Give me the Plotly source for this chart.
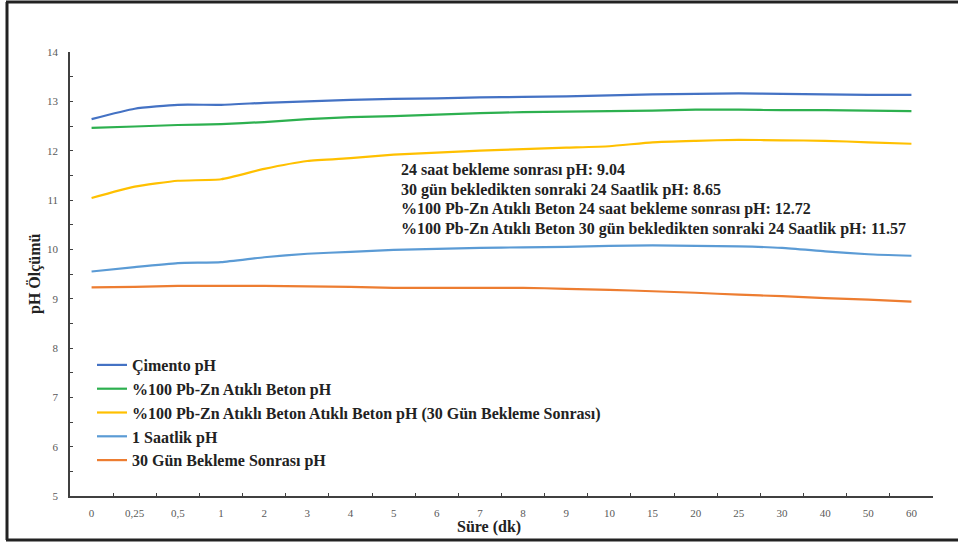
import plotly.graph_objects as go

categories = ["0", "0,25", "0,5", "1", "2", "3", "4", "5", "6", "7", "8", "9", "10",
              "15", "20", "25", "30", "40", "50", "60"]

cimento_ph = [12.64, 12.85, 12.93, 12.93, 12.97, 13.00, 13.03, 13.05, 13.06, 13.08,
              13.09, 13.10, 13.12, 13.14, 13.15, 13.16, 13.15, 13.14, 13.13, 13.13]
pbzn_ph = [12.46, 12.49, 12.52, 12.54, 12.58, 12.64, 12.68, 12.70, 12.73, 12.76,
           12.78, 12.79, 12.80, 12.81, 12.83, 12.83, 12.82, 12.82, 12.81, 12.80]
pbzn_30gun_ph = [11.04, 11.27, 11.39, 11.42, 11.63, 11.79, 11.85, 11.92, 11.96, 12.00,
                 12.03, 12.06, 12.09, 12.17, 12.20, 12.22, 12.21, 12.20, 12.17, 12.14]
saatlik_ph = [9.55, 9.64, 9.72, 9.74, 9.84, 9.91, 9.95, 9.99, 10.01, 10.03,
              10.04, 10.05, 10.07, 10.08, 10.07, 10.06, 10.03, 9.96, 9.90, 9.87]
gun30_ph = [9.23, 9.24, 9.26, 9.26, 9.26, 9.25, 9.24, 9.22, 9.22, 9.22,
            9.22, 9.20, 9.18, 9.15, 9.12, 9.08, 9.05, 9.01, 8.98, 8.94]

series_names = [
    "Çimento pH",
    "%100 Pb-Zn Atıklı Beton pH",
    "%100 Pb-Zn Atıklı Beton Atıklı Beton pH (30 Gün Bekleme Sonrası)",
    "1 Saatlik pH",
    "30 Gün Bekleme Sonrası pH",
]
series_values = [cimento_ph, pbzn_ph, pbzn_30gun_ph, saatlik_ph, gun30_ph]
colors = ["#4472C4", "#2DB04F", "#FFC000", "#5B9BD5", "#ED7D31"]

note_lines = [
    "24 saat bekleme sonrası pH: 9.04",
    "30 gün bekledikten sonraki 24 Saatlik pH: 8.65",
    "%100 Pb-Zn Atıklı Beton 24 saat bekleme sonrası pH: 12.72",
    "%100 Pb-Zn Atıklı Beton 30 gün bekledikten sonraki 24 Saatlik pH: 11.57",
]

W, H = 958, 543
L, R, T, B = 70, 25, 52, 47
pw, ph = W - L - R, H - T - B


def px(x):
    return (x - L) / pw


def py(y):
    return (H - B - y) / ph


SERIF = "Times New Roman, Liberation Serif, DejaVu Serif, serif"

fig = go.Figure()
for i, (name, vals, col) in enumerate(zip(series_names, series_values, colors)):
    fig.add_trace(go.Scatter(
        x=categories, y=vals, name=f"<b>{name}</b>", mode="lines",
        line=dict(color=col, width=2.2, shape="spline", smoothing=0.5),
        legendgroup=f"g{i}",
    ))

annotations = []
for k, line in enumerate(note_lines):
    annotations.append(dict(
        text=f"<b>{line}</b>", x=px(399), y=py(170 + k * 19.5),
        xref="paper", yref="paper", xanchor="left", yanchor="middle",
        showarrow=False, font=dict(family=SERIF, size=16, color="#222222"),
    ))
annotations.append(dict(
    text="<b>Süre (dk)</b>", x=px(489), y=py(527), xref="paper", yref="paper",
    xanchor="center", yanchor="middle", showarrow=False,
    font=dict(family=SERIF, size=16, color="#222222"),
))
annotations.append(dict(
    text="<b>pH Ölçümü</b>", x=px(35), y=py(274), xref="paper", yref="paper",
    xanchor="center", yanchor="middle", showarrow=False, textangle=-90,
    font=dict(family=SERIF, size=16, color="#222222"),
))

shapes = [
    dict(type="line", xref="paper", yref="paper", x0=px(7), x1=px(7), y0=py(2), y1=py(540),
         line=dict(color="#222222", width=3)),
    dict(type="line", xref="paper", yref="paper", x0=px(6), x1=px(958), y0=py(2), y1=py(2),
         line=dict(color="#222222", width=3)),
    dict(type="line", xref="paper", yref="paper", x0=px(6), x1=px(958), y0=py(540), y1=py(540),
         line=dict(color="#222222", width=3)),
]

fig.update_layout(
    width=W, height=H,
    margin=dict(l=L, r=R, t=T, b=B),
    paper_bgcolor="white", plot_bgcolor="white",
    font=dict(family=SERIF, color="#595959"),
    showlegend=True,
    legend=dict(
        x=px(92), y=py(348), xanchor="left", yanchor="top",
        bgcolor="rgba(0,0,0,0)", font=dict(family=SERIF, size=16, color="#222222"),
        tracegroupgap=0, traceorder="grouped",
    ),
    xaxis=dict(
        type="category", categoryorder="array", categoryarray=categories,
        showline=True, linecolor="#404040", linewidth=1.5, mirror=False,
        showgrid=False, zeroline=False,
        ticks="inside", tickson="boundaries", ticklen=3, tickcolor="#404040",
        tickfont=dict(family=SERIF, size=11, color="#595959"),
        ticklabelstandoff=6,
        range=[-0.5, len(categories) - 0.5],
    ),
    yaxis=dict(
        range=[5, 14], dtick=1, tick0=5,
        showline=True, linecolor="#404040", linewidth=1.5,
        showgrid=False, zeroline=False,
        ticks="inside", ticklen=3, tickcolor="#404040",
        minor=dict(dtick=0.5, ticks="inside", ticklen=3, tickcolor="#404040", showgrid=False),
        tickfont=dict(family=SERIF, size=11, color="#595959"),
        ticklabelstandoff=8,
    ),
    annotations=annotations,
    shapes=shapes,
)

fig.write_html("out.html")
